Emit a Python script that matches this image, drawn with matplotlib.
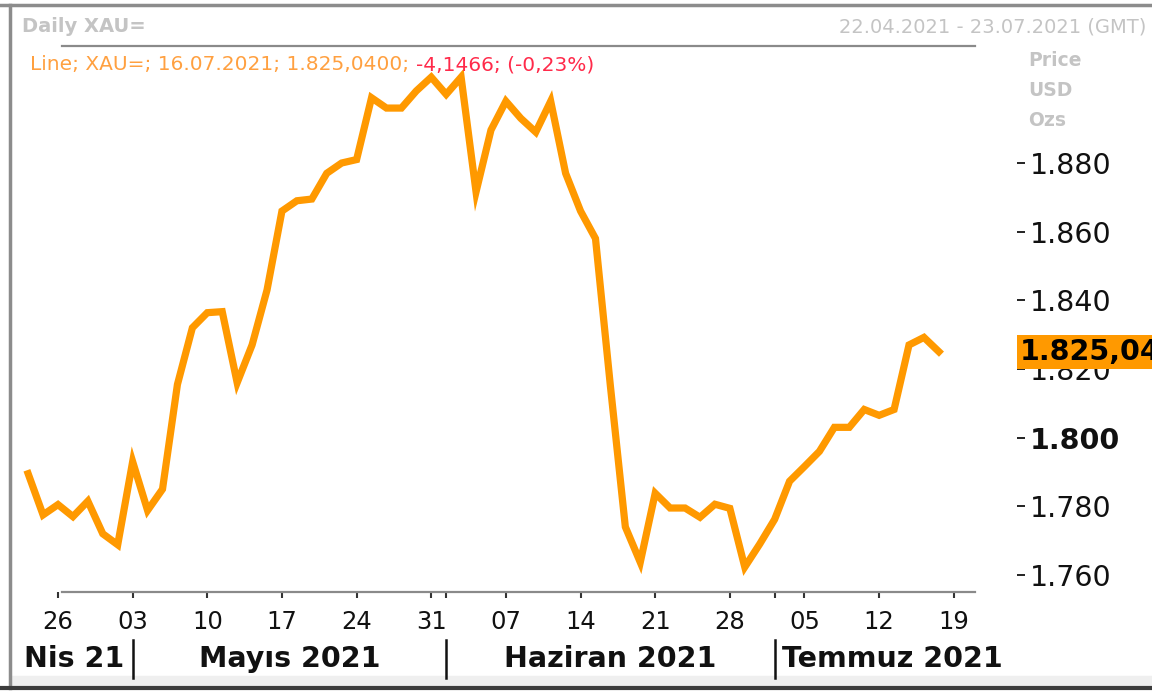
import pandas as pd
import matplotlib.pyplot as plt
from matplotlib.transforms import blended_transform_factory
from matplotlib.patches import Rectangle
from matplotlib.lines import Line2D

# daily XAU= closes, 22.04.2021 - 16.07.2021 (trading days)
dates = pd.bdate_range("2021-04-22", "2021-07-16")
prices = [
    1789.5, 1777.5, 1780.5, 1777.0, 1781.5, 1772.0, 1768.8,
    1793.0, 1778.8, 1785.0, 1815.5, 1832.0, 1836.4, 1836.7, 1816.0, 1827.0,
    1843.0, 1866.0, 1869.0, 1869.5, 1877.0, 1880.0, 1881.0, 1899.0, 1896.0,
    1896.0, 1901.0, 1905.0,
    1900.0, 1905.0, 1871.6, 1889.6, 1898.0, 1893.0, 1889.0, 1898.0, 1877.0,
    1866.0, 1858.0, 1815.0, 1774.0, 1763.7, 1783.8, 1779.5, 1779.5, 1776.8,
    1780.6, 1779.4, 1762.3, 1769.0,
    1776.2, 1787.3, 1791.6, 1796.0, 1803.0, 1803.0, 1808.2, 1806.5, 1808.2,
    1827.0, 1829.2, 1825.04,
]
yticks = [1760, 1780, 1800, 1820, 1840, 1860, 1880]
months = [("Nis 21", "2021-04"), ("Mayıs 2021", "2021-05"),
          ("Haziran 2021", "2021-06"), ("Temmuz 2021", "2021-07")]
last_info = "Line; XAU=; 16.07.2021; 1.825,0400; "
last_change = "-4,1466; (-0,23%)"
badge = "1.825,04"

W, H = 1152, 693
axis_days = pd.bdate_range("2021-04-22", "2021-07-23")
idx = list(range(len(prices)))

def fx(px):
    return px / W

def fy(py):
    return 1 - py / H

fig = plt.figure(figsize=(W / 100, H / 100), dpi=100)
fig.patch.set_facecolor("white")
ax = fig.add_axes([fx(22), fy(592), fx(1017) - fx(22), fy(48) - fy(592)])

ax.plot(idx, prices, color="#ff9900", linewidth=5.2, solid_joinstyle="miter", zorder=3)

# trading-day index -> pixel : Apr 26 (idx 2) at x=58, 14.93 px per day
ppd = 14.93
ax.set_xlim(2 - 36 / ppd, 2 + (1017 - 58) / ppd)
ax.set_ylim(1880 - (592 - 163) / 3.433, 1880 + (163 - 48) / 3.433)

for s in ["top", "left", "right"]:
    ax.spines[s].set_visible(False)
ax.spines["bottom"].set_color("#8a8a8a")
ax.spines["bottom"].set_linewidth(1.6)
ax.spines["bottom"].set_bounds(2 + (62 - 58) / ppd, 2 + (975 - 58) / ppd)

# x ticks: mondays labelled, month starts with a plain tick
pos, labs = [], []
prev_month = None
for i, d in enumerate(axis_days):
    if d.weekday() == 0:
        pos.append(i)
        labs.append(d.strftime("%d"))
    elif d.month != prev_month and prev_month is not None:
        pos.append(i)
        labs.append("")
    prev_month = d.month
ax.set_xticks(pos)
ax.set_xticklabels(labs)
ax.tick_params(axis="x", direction="out", length=4, width=1.5, color="#333333",
               labelsize=17.5, pad=9, labelcolor="#111111")

ax.yaxis.tick_right()
ax.set_yticks(yticks)
ax.set_yticklabels([f"{v / 1000:.3f}" for v in yticks])
ax.tick_params(axis="y", direction="out", length=6, width=1.4, color="#222222",
               labelsize=20.5, pad=3, labelcolor="#111111")
for t in ax.get_yticklabels():
    if t.get_text() == "1.800":
        t.set_fontweight("bold")

# last value badge
btr = blended_transform_factory(ax.transAxes, ax.transData)
ax.text(1.0 + 3 / (1017 - 22), prices[-1], badge, transform=btr, ha="left", va="center",
        fontsize=20.5, fontweight="bold", color="black", clip_on=False, zorder=5,
        bbox=dict(boxstyle="square,pad=0.1", fc="#ff9900", ec="none"))

# month labels and separators
sep_tr = blended_transform_factory(ax.transData, fig.transFigure)
xl = ax.get_xlim()
bounds = [xl[0]]
for _, key in months[1:]:
    first = [i for i, d in enumerate(axis_days) if d.strftime("%Y-%m") == key][0]
    bounds.append(first)
for b in bounds[1:]:
    ax.plot([b, b], [fy(678), fy(640)], color="#111111", linewidth=1.8,
            transform=sep_tr, clip_on=False)
for k, (name, _) in enumerate(months):
    if k == 0:
        x, ha = bounds[0] + 2 / ppd, "left"
    elif k == len(months) - 1:
        x, ha = bounds[k] + 7 / ppd, "left"
    else:
        x, ha = (bounds[k] + bounds[k + 1]) / 2, "center"
    ax.text(x, fy(659), name, transform=sep_tr, ha=ha, va="center",
            fontsize=20.5, fontweight="bold", color="#111111")

# header texts
grey = "#c4c4c4"
fig.text(fx(22), fy(27), "Daily XAU=", color=grey, fontsize=14, fontweight="bold",
         va="center", ha="left")
fig.text(fx(1146), fy(27), "22.04.2021 - 23.07.2021 (GMT)", color=grey, fontsize=14,
         va="center", ha="right")
fig.add_artist(Line2D([fx(62), fx(975)], [fy(46), fy(46)], color="#8a8a8a", linewidth=1.6))
for k, s in enumerate(["Price", "USD", "Ozs"]):
    fig.text(fx(1028), fy(60 + 30 * k), s, color=grey, fontsize=13.5, fontweight="bold",
             va="center", ha="left")

t1 = fig.text(fx(30), fy(65), last_info, color="#ffa040", fontsize=14.5, va="center", ha="left")
fig.canvas.draw()
bb = t1.get_window_extent()
fig.text(bb.x1 / W, fy(65), last_change, color="#ff2a4a", fontsize=14.5, va="center", ha="left")

# outer frame
fig.add_artist(Line2D([0, 1], [fy(5), fy(5)], color="#8c8c8c", linewidth=2.5))
fig.add_artist(Line2D([fx(9.5), fx(9.5)], [fy(5), fy(688)], color="#8c8c8c", linewidth=2.5))
fig.add_artist(Rectangle((fx(10), fy(685)), 1, fy(676) - fy(685), transform=fig.transFigure,
                         color="#efefef", zorder=0))
fig.add_artist(Line2D([0, 1], [fy(688), fy(688)], color="#3c3c3c", linewidth=3))

fig.savefig("out.png", dpi=100)
